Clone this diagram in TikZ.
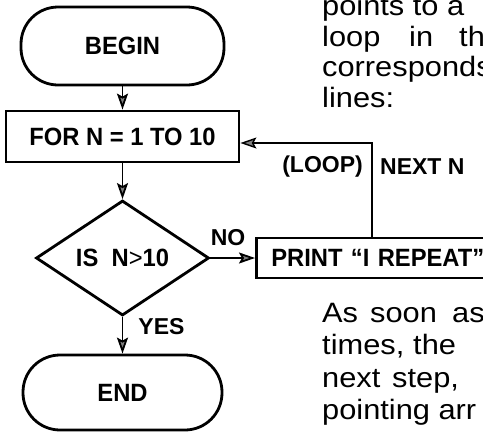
\documentclass[tikz,border=0pt]{standalone}
\usepackage{fontspec}
\setmainfont{Liberation Sans}
\newfontfamily\boxfont{Liberation Sans}[FakeStretch=0.95]
\newfontfamily\bodyfont{Liberation Sans}[FakeStretch=1.1]
\usetikzlibrary{shapes.geometric,arrows.meta}
\begin{document}
\begin{tikzpicture}[x=1pt,y=-1pt,
  box/.style={draw, line width=2.8pt, inner sep=0pt, font=\boxfont\bfseries\fontsize{25}{25}\selectfont},
  term/.style={box, rounded corners=37pt},
  lbl/.style={font=\bfseries\fontsize{23}{23}\selectfont, inner sep=0pt},
  body/.style={font=\bodyfont\fontsize{28}{28}\selectfont, inner sep=0pt, anchor=base west},
  tipstyle/.style={-{Stealth[length=16pt,width=11pt,inset=3pt,fill=black!50]}},
  conn/.style={line width=1.8pt, tipstyle},
  back/.style={line width=1.4pt, tipstyle},
]
\useasboundingbox (0,0) rectangle (483,432);
\clip (0,0) rectangle (483,432);

% flowchart
\node[term, minimum width=203pt, minimum height=78pt] (begin) at (122.5,46) {BEGIN};
\node[box, minimum width=233pt, minimum height=51pt] (for) at (122.5,136.5) {FOR N = 1 TO 10};
\node[box, diamond, aspect=1.5, minimum width=173pt, minimum height=115pt] (is) at (122.5,258) {IS\ \ N{\mdseries >}10};
\node[box, anchor=west, minimum height=40pt, text width=215pt, align=left, inner xsep=15pt] (print) at (255,258) {PRINT “I REPEAT”};
\node[term, minimum width=199pt, minimum height=75pt] (end) at (122.5,392.5) {END};

\draw[conn] (begin) -- (for);
\draw[conn] (for) -- (is);
\draw[conn] (is) -- (end);
\draw[conn] (is.east) -- (print.west);
\coordinate (lp) at (372,143);
\draw[back] (print.north -| lp) -- (lp) -- (lp -| for.east);

\node[lbl] (no) at (228,238) {NO};
\node[lbl] (yes) at (161.5,326.5) {YES};
\node[lbl, anchor=east] (loopl) at (363,167) {(LOOP)};
\node[lbl, anchor=west] (nextn) at (380,167) {NEXT N};

% running text
\node[body] (a1) at (322,15) {points to a};
\node[body] (b1) at (322,46) {loop};
\node[body] (b2) at (409,46) {in};
\node[body] (b3) at (459,46) {th};
\node[body] (c1) at (322,76) {corresponds};
\node[body] (d1) at (322,107) {lines:};

\node[body] (e1) at (322,322) {As};
\node[body] (e2) at (370,322) {soon};
\node[body] (e3) at (452,322) {as};
\node[body] (f1) at (322,354) {times,};
\node[body] (f2) at (413,354) {the};
\node[body] (g1) at (322,387) {next};
\node[body] (g2) at (392,387) {step,};
\node[body] (h1) at (322,419) {pointing arr};
\end{tikzpicture}
\end{document}
